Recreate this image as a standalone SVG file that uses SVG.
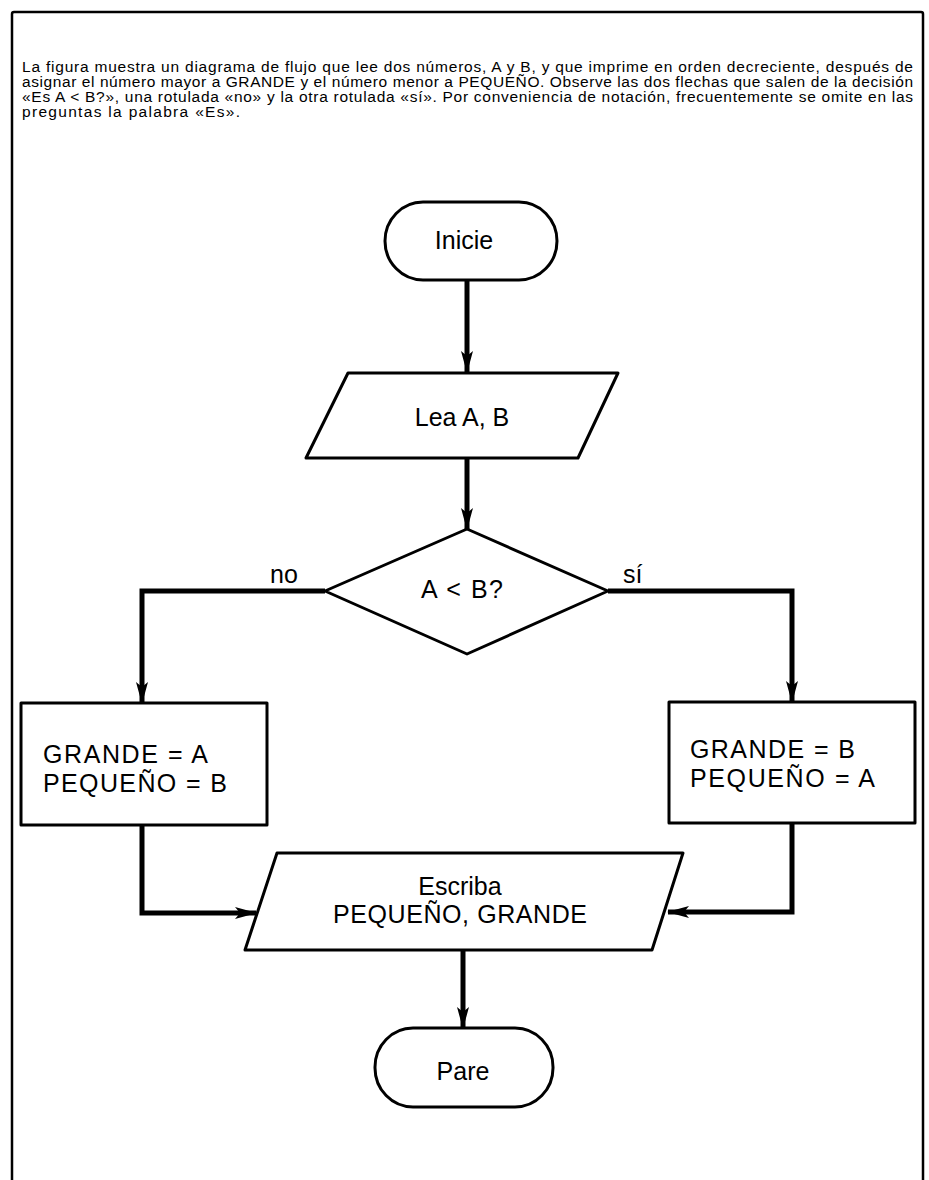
<svg xmlns="http://www.w3.org/2000/svg" width="929" height="1180" viewBox="0 0 929 1180">
<style>
.shape{fill:#fff;stroke:#000;stroke-width:3;stroke-linejoin:round}
.con{fill:none;stroke:#000;stroke-width:5;stroke-linejoin:miter}
.lbl{font-family:"Liberation Sans",Arial,sans-serif;font-size:25px;fill:#000}
.par{font-family:"Liberation Sans Narrow","Liberation Sans",Arial,sans-serif;font-size:15.5px;fill:#000}
</style>
<defs>
<marker id="ah" viewBox="0 0 22 14" refX="21" refY="7" markerWidth="22" markerHeight="14" markerUnits="userSpaceOnUse" orient="auto">
<path d="M0,1 L22,7 L0,13 L5,7 Z" fill="#000"/>
</marker>
</defs>
<rect width="929" height="1180" fill="#fff"/>
<path d="M12,1180 L12,14 Q12,12 14,12 L921,12 Q923,12 923,14 L923,1180" fill="none" stroke="#000" stroke-width="2.5"/>
<g id="caption" class="par">
<text x="22" y="72" textLength="891" lengthAdjust="spacing">La figura muestra un diagrama de flujo que lee dos números, A y B, y que imprime en orden decreciente, después de</text>
<text x="22" y="87" textLength="891" lengthAdjust="spacing">asignar el número mayor a GRANDE y el número menor a PEQUEÑO. Observe las dos flechas que salen de la decisión</text>
<text x="22" y="102" textLength="891" lengthAdjust="spacing">«Es A &lt; B?», una rotulada «no» y la otra rotulada «sí». Por conveniencia de notación, frecuentemente se omite en las</text>
<text x="22" y="117" textLength="218" lengthAdjust="spacing">preguntas la palabra «Es».</text>
</g>
<g id="connectors">
<line class="con" x1="467" y1="280" x2="467" y2="372" marker-end="url(#ah)"/>
<line class="con" x1="467" y1="458" x2="467" y2="529" marker-end="url(#ah)"/>
<polyline class="con" points="325,591 142,591 142,703" marker-end="url(#ah)"/>
<polyline class="con" points="608,591 792,591 792,702" marker-end="url(#ah)"/>
<polyline class="con" points="142,825 142,913 256,913" marker-end="url(#ah)"/>
<polyline class="con" points="792,823 792,912 668,912" marker-end="url(#ah)"/>
<line class="con" x1="463" y1="950" x2="463" y2="1028" marker-end="url(#ah)"/>
</g>
<g id="inicie">
<rect class="shape" x="385" y="202" width="172" height="78" rx="38" ry="39"/>
<text class="lbl" x="464" y="249" text-anchor="middle">Inicie</text>
</g>
<g id="lea">
<polygon class="shape" points="348,373 618,373 578,458 306,458"/>
<text class="lbl" x="462" y="426" text-anchor="middle">Lea A, B</text>
</g>
<g id="decision">
<polygon class="shape" points="467,529 608,591 467,654 325,591"/>
<text class="lbl" x="421" y="598" textLength="82" lengthAdjust="spacing">A &lt; B?</text>
</g>
<g id="label-no"><text class="lbl" x="270" y="583" font-size="23">no</text></g>
<g id="label-si"><text class="lbl" x="623" y="583" font-size="23">sí</text></g>
<g id="izq">
<rect class="shape" x="21" y="703" width="246" height="122"/>
<text class="lbl" x="43" y="763" textLength="165" lengthAdjust="spacing">GRANDE = A</text>
<text class="lbl" x="43" y="792" textLength="184" lengthAdjust="spacing">PEQUEÑO = B</text>
</g>
<g id="der">
<rect class="shape" x="669" y="702" width="246" height="121"/>
<text class="lbl" x="690" y="758" textLength="165" lengthAdjust="spacing">GRANDE = B</text>
<text class="lbl" x="690" y="787" textLength="185" lengthAdjust="spacing">PEQUEÑO = A</text>
</g>
<g id="escriba">
<polygon class="shape" points="277,853 683,853 652,950 245,950"/>
<text class="lbl" x="460" y="895" text-anchor="middle">Escriba</text>
<text class="lbl" x="333" y="923" textLength="254" lengthAdjust="spacing">PEQUEÑO, GRANDE</text>
</g>
<g id="pare">
<rect class="shape" x="375" y="1028" width="178" height="79" rx="38" ry="39"/>
<text class="lbl" x="463" y="1080" text-anchor="middle">Pare</text>
</g>
</svg>
